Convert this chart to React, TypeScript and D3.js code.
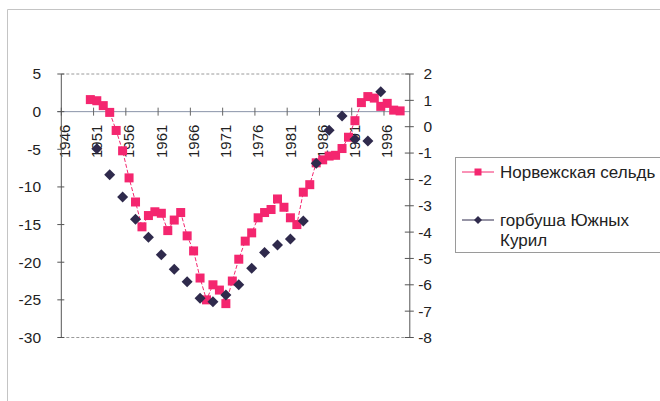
import React from "react";
import * as d3 from "d3";

// Category axis: one slot per year
const categoryYears: number[] = d3.range(1946, 2000);
const labelYears = [1946, 1951, 1956, 1961, 1966, 1971, 1976, 1981, 1986, 1991, 1996];

// Норвежская сельдь (left axis)
const herringYears = [
  1950, 1951, 1952, 1953, 1954, 1955, 1956, 1957, 1958, 1959,
  1960, 1961, 1962, 1963, 1964, 1965, 1966, 1967, 1968, 1969,
  1970, 1971, 1972, 1973, 1974, 1975, 1976, 1977, 1978, 1979,
  1980, 1981, 1982, 1983, 1984, 1985, 1986, 1987, 1988, 1989,
  1990, 1991, 1992, 1993, 1994, 1995, 1996, 1997, 1998,
];
const herringValues = [
  1.6, 1.45, 0.8, -0.1, -2.5, -5.2, -8.8, -12.0, -15.3, -13.8,
  -13.3, -13.5, -15.8, -14.4, -13.4, -16.5, -18.5, -22.1, -25.0, -23.0,
  -23.7, -25.5, -22.5, -19.6, -17.2, -16.1, -14.1, -13.4, -13.0, -11.6,
  -12.7, -14.1, -15.0, -10.7, -9.7, -6.8, -6.4, -5.9, -5.8, -4.9,
  -3.4, -1.2, 1.2, 2.0, 1.8, 0.7, 1.1, 0.2, 0.1,
];

// горбуша Южных Курил (right axis), odd years only
const salmonYears = [
  1951, 1953, 1955, 1957, 1959, 1961, 1963, 1965, 1967, 1969, 1971, 1973,
  1975, 1977, 1979, 1981, 1983, 1985, 1987, 1989, 1991, 1993, 1995,
];
const salmonValues = [
  -0.84, -1.82, -2.67, -3.51, -4.2, -4.86, -5.41, -5.88, -6.51, -6.64, -6.39, -6.0,
  -5.37, -4.77, -4.49, -4.26, -3.58, -1.39, -0.13, 0.41, -0.48, -0.54, 1.33,
];

const leftTicks = [5, 0, -5, -10, -15, -20, -25, -30];
const rightTicks = [2, 1, 0, -1, -2, -3, -4, -5, -6, -7, -8];

const seriesNames = ["Норвежская сельдь", "горбуша Южных", "Курил"];

const PINK = "#f4266f";
const NAVY = "#2f2a4c";
const FONT = "'Liberation Sans', Arial, sans-serif";

export default function App() {
  const W = 660;
  const H = 401;
  const plotLeft = 61.3;
  const plotRight = 409.8;
  const plotTop = 74;
  const plotBottom = 337.5;

  const x = d3
    .scaleBand<number>()
    .domain(categoryYears)
    .range([plotLeft, plotRight])
    .padding(0);
  const cx = (yr: number) => (x(yr) as number) + x.bandwidth() / 2;

  const yL = d3.scaleLinear().domain([-30, 5]).range([plotBottom, plotTop]);
  const yR = d3.scaleLinear().domain([-8, 2]).range([plotBottom, plotTop]);

  const herring = herringYears.map((yr, i) => ({ yr, v: herringValues[i] }));
  const salmon = salmonYears.map((yr, i) => ({ yr, v: salmonValues[i] }));

  const herringLine = d3
    .line<{ yr: number; v: number }>()
    .x((d) => cx(d.yr))
    .y((d) => yL(d.v))(herring) as string;

  const zeroY = yL(0);
  const sq = 9;
  const dm = 5.5;
  const diamond = (px: number, py: number, r: number) =>
    `M${px},${py - r}L${px + r},${py}L${px},${py + r}L${px - r},${py}Z`;

  const legX = 455.5;
  const legY = 157.5;

  return (
    <svg
      width={W}
      height={H}
      style={{ position: "absolute", left: 0, top: 0, background: "#fff" }}
      fontFamily={FONT}
    >
      {/* chart frame */}
      <path d={`M7.5,${H}V9.5H${W}`} fill="none" stroke="#c4c4c4" strokeWidth={1} />

      {/* plot area border (top / bottom) */}
      <line x1={plotLeft} x2={plotRight} y1={plotTop} y2={plotTop} stroke="#9a9a9a" strokeDasharray="3,2" />
      <line x1={plotLeft} x2={plotRight} y1={plotBottom} y2={plotBottom} stroke="#9a9a9a" strokeDasharray="3,2" />

      {/* category axis at zero */}
      <line x1={plotLeft - 4} x2={plotRight} y1={zeroY} y2={zeroY} stroke="#8a93a8" strokeWidth={1} />
      {labelYears.map((yr) => (
        <line
          key={"t" + yr}
          x1={x(yr) as number}
          x2={x(yr) as number}
          y1={zeroY - 4}
          y2={zeroY + 4}
          stroke="#666"
        />
      ))}
      {labelYears.map((yr) => (
        <text
          key={"l" + yr}
          transform={`translate(${cx(yr)},${zeroY + 13}) rotate(-90)`}
          textAnchor="end"
          dy="0.35em"
          fontSize={15}
          fill="#222"
        >
          {yr}
        </text>
      ))}

      {/* left value axis */}
      <line x1={plotLeft} x2={plotLeft} y1={plotTop} y2={plotBottom} stroke="#555" />
      {leftTicks.map((t) => (
        <g key={"yl" + t}>
          <line x1={plotLeft - 4} x2={plotLeft + 3} y1={yL(t)} y2={yL(t)} stroke="#555" />
          <text x={41} y={yL(t)} dy="0.35em" textAnchor="end" fontSize={15.5} fill="#222">
            {t}
          </text>
        </g>
      ))}

      {/* right value axis */}
      <line x1={plotRight} x2={plotRight} y1={plotTop} y2={plotBottom} stroke="#555" />
      {rightTicks.map((t) => (
        <g key={"yr" + t}>
          <line x1={plotRight - 5} x2={plotRight + 4} y1={yR(t)} y2={yR(t)} stroke="#555" />
          <text x={432} y={yR(t)} dy="0.35em" textAnchor="end" fontSize={15.5} fill="#222">
            {t}
          </text>
        </g>
      ))}

      {/* herring series */}
      <path d={herringLine} fill="none" stroke={PINK} strokeWidth={1} strokeDasharray="4,2" />
      {herring.map((d) => (
        <rect
          key={"h" + d.yr}
          x={cx(d.yr) - sq / 2}
          y={yL(d.v) - sq / 2}
          width={sq}
          height={sq}
          fill={PINK}
        />
      ))}

      {/* pink salmon series */}
      {salmon.map((d) => (
        <path key={"s" + d.yr} d={diamond(cx(d.yr), yR(d.v), dm)} fill={NAVY} />
      ))}

      {/* legend */}
      <rect x={legX} y={legY} width={W - legX + 5} height={95} fill="#fff" stroke="#9a9a9a" />
      <line x1={462} x2={494} y1={172} y2={172} stroke={PINK} strokeWidth={1} />
      <rect x={478 - 3.5} y={172 - 3.5} width={7} height={7} fill={PINK} />
      <text x={500} y={172} dy="0.35em" fontSize={17} fill="#222">
        {seriesNames[0]}
      </text>
      <line x1={462} x2={494} y1={220} y2={220} stroke={NAVY} strokeWidth={1} />
      <path d={diamond(478, 220, 4)} fill={NAVY} />
      <text x={500} y={220} dy="0.35em" fontSize={17} fill="#222">
        {seriesNames[1]}
      </text>
      <text x={500} y={240} dy="0.35em" fontSize={17} fill="#222">
        {seriesNames[2]}
      </text>
    </svg>
  );
}
